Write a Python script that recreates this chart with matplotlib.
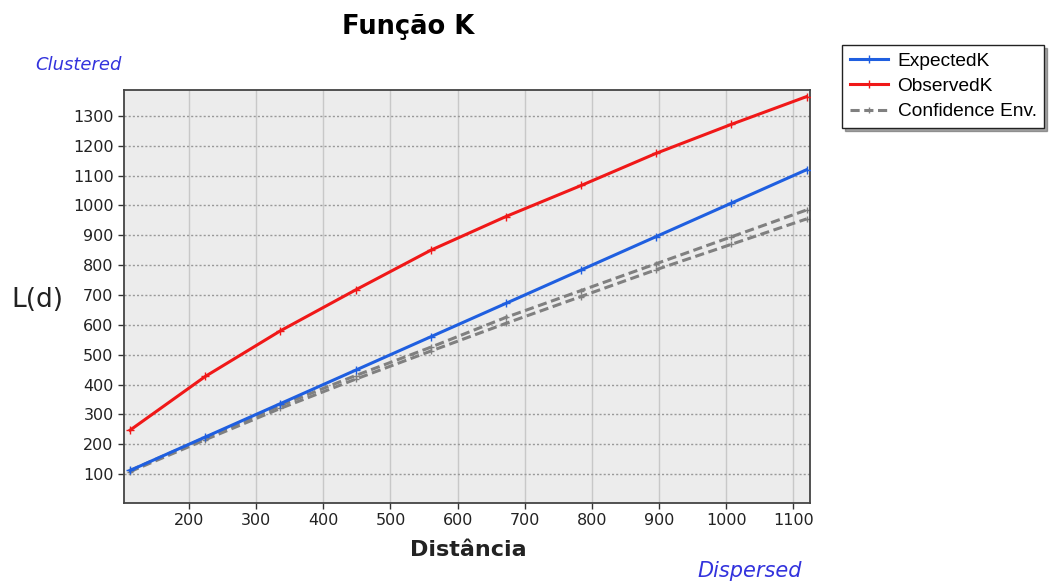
import matplotlib
matplotlib.use("Agg")
import matplotlib.pyplot as plt

distance = [112, 224, 336, 448, 560, 672, 784, 896, 1008, 1120]
expected_k = [112, 224, 336, 448, 560, 672, 784, 896, 1008, 1120]
observed_k = [247, 427, 580, 717, 850, 963, 1067, 1175, 1272, 1365]
conf_upper = [112, 222, 330, 430, 525, 625, 715, 805, 895, 985]
conf_lower = [108, 215, 320, 418, 512, 605, 695, 785, 870, 955]
x_ticks = [200, 300, 400, 500, 600, 700, 800, 900, 1000, 1100]
y_ticks = [100, 200, 300, 400, 500, 600, 700, 800, 900, 1000, 1100, 1200, 1300]

plt.rcParams['font.family'] = ['DejaVu Sans']

W, H = 1049, 582
fig = plt.figure(figsize=(W / 100, H / 100), dpi=100)
ax = fig.add_axes([124 / W, 1 - 503 / H, (810 - 124) / W, (503 - 90) / H])
ax.set_facecolor('#ececec')

ax.plot(distance, conf_upper, color='#808080', lw=2.2, ls=(0, (3, 1.5)), marker='+', ms=5, mew=1, zorder=2)
l3, = ax.plot(distance, conf_lower, color='#808080', lw=2.2, ls=(0, (3, 1.5)), marker='+', ms=5, mew=1, zorder=2, label='Confidence Env.')
l1, = ax.plot(distance, expected_k, color='#1f5fe0', lw=2.2, marker='+', ms=6, mew=1, zorder=3, label='ExpectedK')
l2, = ax.plot(distance, observed_k, color='#f01818', lw=2.2, marker='+', ms=6, mew=1, zorder=3, label='ObservedK')

ax.set_xlim(103, 1125)
ax.set_ylim(3, 1387)
ax.set_xticks(x_ticks)
ax.set_yticks(y_ticks)
ax.tick_params(axis='both', labelsize=11.5, colors='#333333', length=4, width=1, labelcolor='#222222')
ax.xaxis.grid(True, color='#c8c8c8', lw=1, ls='-')
ax.yaxis.grid(True, color='#999999', lw=1, ls=(0, (1.5, 1.5)))
ax.set_axisbelow(True)
for s in ax.spines.values():
    s.set_color('#444444')
    s.set_linewidth(1.3)

fig.text(408 / W, 1 - 27 / H, 'Função K', fontsize=18.5, fontweight='bold', ha='center', va='center')
fig.text(468 / W, 1 - 550 / H, 'Distância', fontsize=16, fontweight='bold', ha='center', va='center', color='#222222')
fig.text(37 / W, 1 - 300 / H, 'L(d)', fontsize=19, ha='center', va='center', color='#222222')
fig.text(78 / W, 1 - 65 / H, 'Clustered', fontsize=13, style='italic', ha='center', va='center', color='#3333dd')
fig.text(750 / W, 1 - 571 / H, 'Dispersed', fontsize=15, style='italic', ha='center', va='center', color='#3333dd')

leg = fig.legend(handles=[l1, l2, l3], loc='upper left', bbox_to_anchor=(842 / W, 1 - 45 / H),
                 frameon=True, fancybox=False, shadow=True, prop={'family': 'Liberation Sans', 'size': 13.8},
                 handlelength=2.0, handletextpad=0.5, borderpad=0.4, labelspacing=0.4,
                 borderaxespad=0, numpoints=1)
leg.get_frame().set_edgecolor('#222222')
leg.get_frame().set_linewidth(1)

fig.savefig('out.png', dpi=100)
